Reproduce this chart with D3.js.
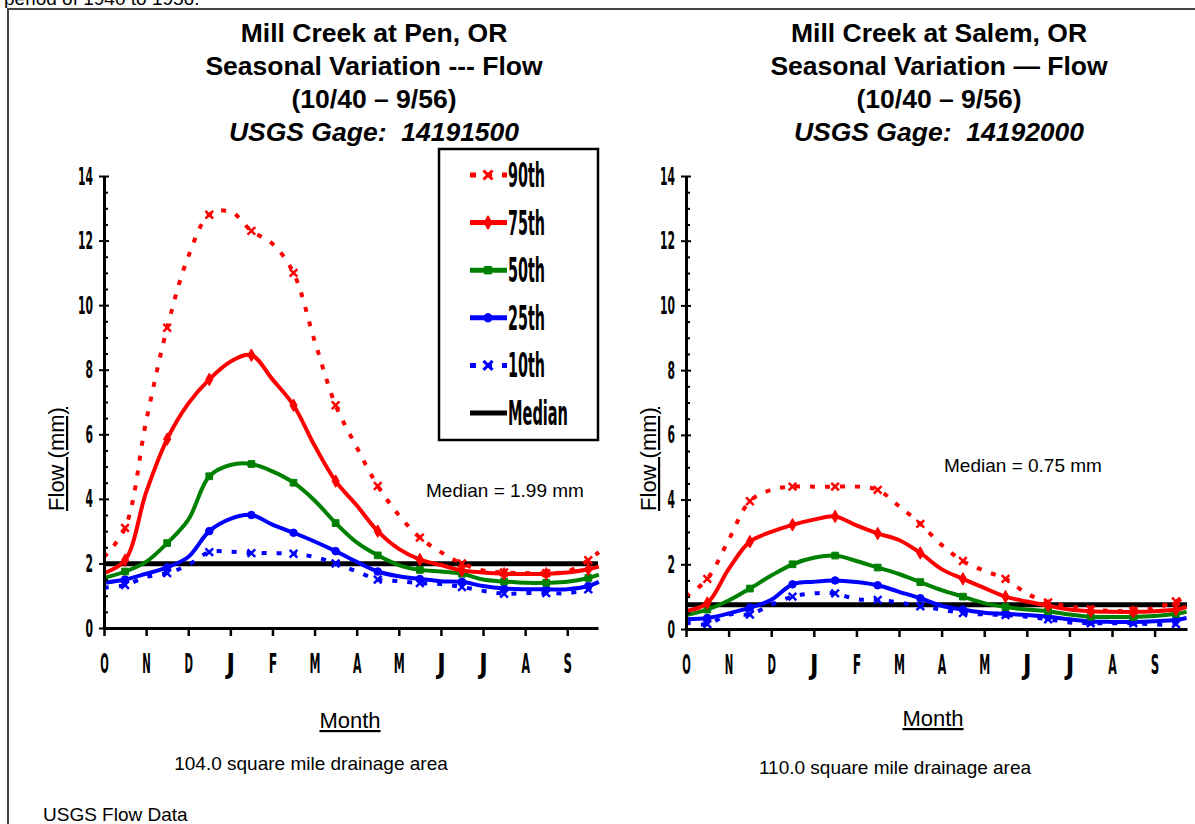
<!DOCTYPE html>
<html>
<head>
<meta charset="utf-8">
<script src="https://cdnjs.cloudflare.com/ajax/libs/d3/7.8.5/d3.min.js"></script>
<style>
body { margin: 0; background: #fff; }
svg { display: block; font-family: "Liberation Sans", Arial, sans-serif; }
</style>
</head>
<body>
<script>
// month positions (months after Oct 1) where values were read
const monthPos = [0, 0.5, 1, 1.5, 2, 2.5, 3, 3.5, 4, 4.5, 5, 5.5, 6, 6.5, 7, 7.5, 8, 8.5, 9, 9.5, 10, 10.5, 11, 11.5, 11.75]
const monthLabels = ["O", "N", "D", "J", "F", "M", "A", "M", "J", "J", "A", "S"]
const flowTicks = [0, 2, 4, 6, 8, 10, 12, 14]
const seriesNames = ["90th", "75th", "50th", "25th", "10th"]

// Mill Creek at Pen
const penP90 = [2.2, 3.1, 6.4, 9.3, 11.5, 12.8, 12.9, 12.3, 11.9, 11.0, 8.9, 6.9, 5.6, 4.4, 3.5, 2.8, 2.35, 2.0, 1.78, 1.72, 1.7, 1.7, 1.75, 2.1, 2.35]
const penP75 = [1.7, 2.1, 4.2, 5.85, 6.95, 7.7, 8.25, 8.45, 7.7, 6.9, 5.65, 4.55, 3.8, 3.0, 2.45, 2.12, 1.95, 1.78, 1.72, 1.68, 1.67, 1.68, 1.72, 1.82, 1.9]
const penP50 = [1.55, 1.75, 2.05, 2.63, 3.35, 4.7, 5.05, 5.08, 4.85, 4.5, 3.95, 3.25, 2.65, 2.25, 1.95, 1.8, 1.75, 1.68, 1.5, 1.44, 1.4, 1.4, 1.43, 1.55, 1.65]
const penP25 = [1.4, 1.5, 1.68, 1.88, 2.2, 3.0, 3.38, 3.5, 3.2, 2.95, 2.68, 2.38, 2.05, 1.75, 1.6, 1.52, 1.45, 1.43, 1.3, 1.22, 1.2, 1.2, 1.2, 1.3, 1.43]
const penP10 = [1.25, 1.33, 1.58, 1.7, 1.95, 2.35, 2.36, 2.32, 2.32, 2.3, 2.2, 2.0, 1.75, 1.5, 1.45, 1.39, 1.36, 1.27, 1.15, 1.06, 1.08, 1.08, 1.08, 1.2, 1.43]
const penMedian = 1.99

// Mill Creek at Salem
const salemP90 = [1.0, 1.55, 2.75, 3.95, 4.3, 4.4, 4.4, 4.4, 4.4, 4.3, 3.8, 3.25, 2.6, 2.1, 1.8, 1.55, 1.1, 0.82, 0.7, 0.6, 0.56, 0.56, 0.65, 0.85, 1.0]
const salemP75 = [0.56, 0.8, 1.85, 2.7, 3.0, 3.22, 3.38, 3.48, 3.2, 2.95, 2.75, 2.35, 1.85, 1.55, 1.27, 1.0, 0.85, 0.72, 0.6, 0.55, 0.53, 0.53, 0.55, 0.6, 0.68]
const salemP50 = [0.43, 0.6, 0.88, 1.25, 1.65, 2.0, 2.2, 2.27, 2.1, 1.9, 1.7, 1.45, 1.2, 1.0, 0.8, 0.68, 0.6, 0.55, 0.45, 0.38, 0.37, 0.37, 0.4, 0.47, 0.53]
const salemP25 = [0.3, 0.34, 0.48, 0.66, 0.9, 1.38, 1.46, 1.5, 1.45, 1.35, 1.15, 0.95, 0.72, 0.6, 0.5, 0.47, 0.43, 0.38, 0.3, 0.23, 0.22, 0.22, 0.24, 0.28, 0.34]
const salemP10 = [0.2, 0.15, 0.45, 0.45, 0.75, 1.0, 1.1, 1.1, 0.92, 0.9, 0.82, 0.7, 0.6, 0.49, 0.45, 0.43, 0.38, 0.3, 0.2, 0.18, 0.18, 0.18, 0.14, 0.15, 0.28]
const salemMedian = 0.75

const W = 1195, H = 824
const red = "#ff0000", green = "#008000", blue = "#0000ff"
const narrow = "'Liberation Sans Narrow', 'DejaVu Sans Condensed', sans-serif"
const styles = {
  "90th": { color: red, dash: "5,10", symbol: d3.symbolTimes },
  "75th": { color: red, dash: null, symbol: d3.symbolDiamond },
  "50th": { color: green, dash: null, symbol: d3.symbolSquare },
  "25th": { color: blue, dash: null, symbol: d3.symbolCircle },
  "10th": { color: blue, dash: "5,10", symbol: d3.symbolTimes }
}

const svg = d3.select("body").append("svg")
  .attr("width", W)
  .attr("height", H)

// page frame and cut-off caption
svg.append("text")
  .attr("x", 4).attr("y", 5)
  .style("font-size", "19px")
  .text("period of 1940 to 1956.")
svg.append("rect")
  .attr("x", 0).attr("y", 8).attr("width", W).attr("height", 4)
  .attr("fill", "#fff")
svg.append("line")
  .attr("x1", 7).attr("x2", W).attr("y1", 9).attr("y2", 9)
  .attr("stroke", "#444").attr("stroke-width", 2)
svg.append("line")
  .attr("x1", 8).attr("x2", 8).attr("y1", 9).attr("y2", H)
  .attr("stroke", "#444").attr("stroke-width", 2)

const panels = [
  {
    title: ["Mill Creek at Pen, OR", "Seasonal Variation --- Flow", "(10/40 \u2013 9/56)", "USGS Gage:  14191500"],
    cx: 374, left: 104, right: 598, top: 176, bottom: 628, mEnd: 11.73,
    series: [penP90, penP75, penP50, penP25, penP10], median: penMedian,
    medianText: "Median = 1.99 mm", medianX: 505, medianY: 497,
    monthX: 350, monthY: 728, area: "104.0 square mile drainage area", areaX: 311, areaY: 770,
    labelX: 64, labelY: 459
  },
  {
    title: ["Mill Creek at Salem, OR", "Seasonal Variation \u2014 Flow", "(10/40 \u2013 9/56)", "USGS Gage:  14192000"],
    cx: 939, left: 686, right: 1187, top: 176, bottom: 629, mEnd: 11.76,
    series: [salemP90, salemP75, salemP50, salemP25, salemP10], median: salemMedian,
    medianText: "Median = 0.75 mm", medianX: 1023, medianY: 472,
    monthX: 933, monthY: 726, area: "110.0 square mile drainage area", areaX: 895, areaY: 774,
    labelX: 656, labelY: 459
  }
]

panels.forEach(p => {
  const x = d3.scaleLinear().domain([0, p.mEnd]).range([p.left, p.right])
  const y = d3.scaleLinear().domain([0, 14]).range([p.bottom, p.top])

  // titles
  const t = svg.append("text")
    .attr("text-anchor", "middle")
    .style("font-size", "26.5px")
    .style("font-weight", "bold")
    .style("white-space", "pre")
  p.title.forEach((line, i) => {
    t.append("tspan")
      .attr("x", p.cx)
      .attr("y", 42 + i * 33)
      .style("font-style", i === 3 ? "italic" : "normal")
      .text(line)
  })

  // median line
  svg.append("line")
    .attr("x1", x(0)).attr("x2", x(p.mEnd))
    .attr("y1", y(p.median)).attr("y2", y(p.median))
    .attr("stroke", "#000").attr("stroke-width", 5)

  // series
  const line = d3.line()
    .x((d, i) => x(monthPos[i]))
    .y(d => y(d))
    .curve(d3.curveCatmullRom.alpha(0.5))

  p.series.slice().reverse().forEach((vals, ri) => {
    const name = seriesNames[seriesNames.length - 1 - ri]
    const s = styles[name]
    svg.append("path")
      .datum(vals)
      .attr("d", line)
      .attr("fill", "none")
      .attr("stroke", s.color)
      .attr("stroke-width", 4)
      .attr("stroke-dasharray", s.dash)
    const sym = d3.symbol().type(s.symbol).size(s.symbol === d3.symbolTimes ? 40 : 45)
    svg.selectAll(null)
      .data(vals.filter((d, i) => i % 2 === 1).map((d, k) => [monthPos[k * 2 + 1], d]))
      .enter()
      .append("path")
      .attr("d", sym)
      .attr("transform", d => `translate(${x(d[0])},${y(d[1])})`)
      .attr("fill", s.color)
      .attr("stroke", s.color)
      .attr("stroke-width", s.symbol === d3.symbolTimes ? 2.5 : 1)
  })

  // y axis
  const yAxis = d3.axisLeft(y)
    .tickValues(flowTicks)
    .tickSize(5)
    .tickSizeOuter(0)
    .tickFormat(d3.format("d"))
  const gy = svg.append("g")
    .attr("transform", `translate(${p.left},0)`)
    .call(yAxis)
  gy.select(".domain").attr("stroke-width", 3)
  gy.selectAll(".tick line").attr("x1", 5).attr("stroke-width", 2)
  gy.selectAll(".tick text")
    .attr("x", -11)
    .style("font-family", narrow)
    .style("font-size", "25px")
    .style("font-weight", "bold")
    .attr("textLength", d => String(d).length * 7.5)
    .attr("lengthAdjust", "spacingAndGlyphs")

  const minor = d3.range(1, 28).map(i => i / 2).filter(v => v % 2 !== 0)
  svg.append("g")
    .attr("transform", `translate(${p.left},0)`)
    .call(d3.axisRight(y).tickValues(minor).tickSize(4).tickFormat(""))
    .call(g => g.select(".domain").remove())
    .selectAll(".tick line").attr("stroke-width", 2)

  // x axis
  const xAxis = d3.axisBottom(x)
    .tickValues(d3.range(12))
    .tickSize(8)
    .tickSizeOuter(0)
    .tickFormat(i => monthLabels[i])
  const gx = svg.append("g")
    .attr("transform", `translate(0,${p.bottom})`)
    .call(xAxis)
  gx.select(".domain").attr("stroke-width", 3)
  gx.selectAll(".tick line").attr("stroke-width", 2.5)
  gx.selectAll(".tick text")
    .attr("y", 45).attr("dy", 0)
    .style("font-family", narrow)
    .style("font-size", "26px")
    .style("font-weight", "bold")
    .attr("textLength", (d, i) => monthLabels[i] === "M" ? 11 : 8.5)
    .attr("lengthAdjust", "spacingAndGlyphs")

  // axis titles and notes
  svg.append("text")
    .attr("transform", `translate(${p.labelX},${p.labelY}) rotate(-90)`)
    .attr("text-anchor", "middle")
    .style("font-size", "22px")
    .style("text-decoration", "underline")
    .text("Flow (mm)")
  svg.append("text")
    .attr("x", p.monthX).attr("y", p.monthY)
    .attr("text-anchor", "middle")
    .style("font-size", "22px")
    .style("text-decoration", "underline")
    .text("Month")
  svg.append("text")
    .attr("x", p.areaX).attr("y", p.areaY)
    .attr("text-anchor", "middle")
    .style("font-size", "19px")
    .text(p.area)
  svg.append("text")
    .attr("x", p.medianX).attr("y", p.medianY)
    .attr("text-anchor", "middle")
    .style("font-size", "19px")
    .text(p.medianText)
})

// legend
const legend = svg.append("g")
legend.append("rect")
  .attr("x", 439).attr("y", 149)
  .attr("width", 159).attr("height", 291)
  .attr("fill", "#fff")
  .attr("stroke", "#000").attr("stroke-width", 2.5)

const legendItems = seriesNames.concat(["Median"])
legendItems.forEach((name, i) => {
  const cy = 175 + i * 47.6
  const s = styles[name] || { color: "#000", dash: null, symbol: null }
  legend.append("line")
    .attr("x1", 470).attr("x2", 507)
    .attr("y1", cy).attr("y2", cy)
    .attr("stroke", s.color)
    .attr("stroke-width", 5)
    .attr("stroke-dasharray", s.dash ? "6,10" : null)
  if (s.symbol) {
    legend.append("path")
      .attr("d", d3.symbol().type(s.symbol).size(55))
      .attr("transform", `translate(488,${cy})`)
      .attr("fill", s.color)
      .attr("stroke", s.color)
      .attr("stroke-width", s.symbol === d3.symbolTimes ? 3 : 1)
  }
  legend.append("text")
    .attr("x", 508).attr("y", cy + 12)
    .style("font-family", narrow)
    .style("font-size", "34px")
    .style("font-weight", "bold")
    .attr("textLength", name === "Median" ? 60 : 37)
    .attr("lengthAdjust", "spacingAndGlyphs")
    .text(name)
})

svg.append("text")
  .attr("x", 43).attr("y", 821)
  .style("font-size", "19px")
  .text("USGS Flow Data")
</script>
</body>
</html>
